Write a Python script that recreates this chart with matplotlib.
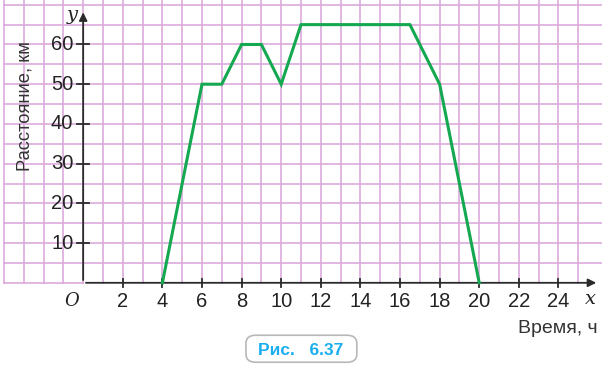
import matplotlib
matplotlib.use("Agg")
import matplotlib.pyplot as plt
from matplotlib.patches import FancyBboxPatch

# time (h) and distance (km)
hours = [4, 6, 7, 8, 9, 10, 11, 16.5, 18, 20]
distance = [0, 50, 50, 60, 60, 50, 65, 65, 50, 0]

x_ticks = [2, 4, 6, 8, 10, 12, 14, 16, 18, 20, 22, 24]
y_ticks = [10, 20, 30, 40, 50, 60]

grid_col = "#dcaadc"
axis_col = "#2b2b2b"
green = "#14a850"

plt.rcParams["font.family"] = ["Liberation Sans", "DejaVu Sans"]

fig = plt.figure(figsize=(6.02, 3.69), dpi=100)
ax = fig.add_axes([0, 0, 1, 1])
ax.set_xlim(-4.2, 26.2)
ax.set_ylim(-21.7, 71.2)
ax.axis("off")

# squared paper
for t in range(-4, 26):
    ax.plot([t, t], [0, 71.2], color=grid_col, lw=1.2, zorder=1)
for d in range(5, 75, 5):
    ax.plot([-4, 26.2], [d, d], color=grid_col, lw=1.2, zorder=1)
ax.plot([-4, 0], [0, 0], color=grid_col, lw=1.2, zorder=1)

# axes with arrows
ax.annotate("", xy=(26.05, 0), xytext=(0, 0),
            arrowprops=dict(arrowstyle="-|>", color=axis_col, lw=1.3,
                            mutation_scale=12), zorder=3)
ax.annotate("", xy=(0, 68.8), xytext=(0, 0),
            arrowprops=dict(arrowstyle="-|>", color=axis_col, lw=1.3,
                            mutation_scale=12), zorder=3)

for t in x_ticks:
    ax.plot([t, t], [-1.0, 1.0], color=axis_col, lw=1.3, zorder=3)
    ax.text(t, -4.7, str(t), ha="center", va="center", fontsize=14.5,
            color="#222222")
for d in y_ticks:
    ax.plot([-0.3, 0.3], [d, d], color=axis_col, lw=1.3, zorder=3)
    ax.text(-0.5, d, str(d), ha="right", va="center", fontsize=14.5,
            color="#222222")

ax.text(-0.2, -4.7, "O", ha="right", va="center", fontsize=13,
        family="DejaVu Serif", style="italic", color="#222222")
ax.text(-0.3, 67.4, "y", ha="right", va="center", fontsize=14,
        family="DejaVu Serif", style="italic", color="#222222")
ax.text(25.6, -4.2, "x", ha="center", va="center", fontsize=14,
        family="DejaVu Serif", style="italic", color="#222222")

ax.text(-2.94, 44.5, "Расстояние, км", rotation=90, ha="center",
        va="center", fontsize=13.2, color="#333333")
ax.text(26.0, -11.4, "Время, ч", ha="right", va="center", fontsize=14,
        color="#333333")

# the graph
ax.plot(hours, distance, color=green, lw=2.2, solid_joinstyle="miter",
        zorder=4)

# caption box
box = FancyBboxPatch((8.22, -20.0), 5.6, 6.8,
                     boxstyle="round,pad=0,rounding_size=0.5",
                     facecolor="white", edgecolor="#b8b8b8", lw=1.2,
                     zorder=5, mutation_aspect=4)
ax.add_patch(box)
ax.text(11.0, -17.0, "Рис.   6.37", ha="center", va="center",
        fontsize=12.5, fontweight="bold", color="#19aef0", zorder=6)

fig.savefig("out.png", dpi=100)
